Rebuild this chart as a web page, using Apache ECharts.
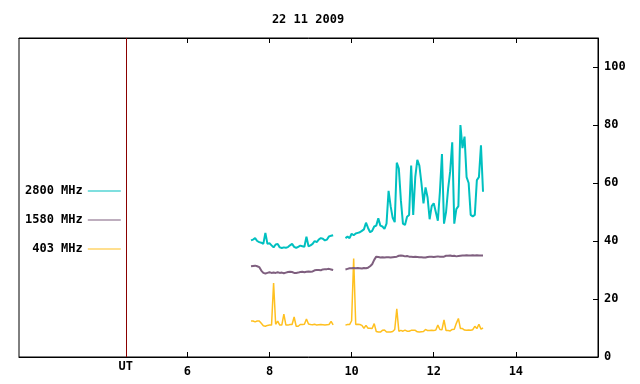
<!DOCTYPE html>
<html>
<head>
<meta charset="utf-8">
<script src="https://cdn.jsdelivr.net/npm/echarts@6/dist/echarts.min.js"></script>
<style>
  html, body { margin: 0; padding: 0; background: #fff; }
  #chart { width: 640px; height: 384px; }
</style>
</head>
<body>
<div id="chart"></div>
<script>
// sampling: two observing runs, one sample every 0.05 h (UT)
var step = 0.05;
var run1Start = 7.55, run2Start = 9.85, gapAt = 9.7;

var xTicks = [6, 8, 10, 12, 14];
var yTicks = [0, 20, 40, 60, 80, 100];

// 2800 MHz
var f2800a = [40.2, 40.5, 41, 40, 39.6, 39.4, 39, 42.8, 39, 39.2, 38.5, 37.8, 38.8, 39, 37.8, 37.6, 37.8, 37.7, 37.9, 38.5,
    39, 38, 37.6, 38, 38.4, 38.2, 38, 41.5, 38.2, 38.5, 39, 40, 39.6, 40.5, 41, 40.8, 40.2, 40.5, 41.6, 41.8, 42];
var f2800b = [41, 41.5, 41,
    42.5, 42, 42.6, 42.8, 43, 43.5, 44, 46.3, 44.5, 43, 43.5, 45, 45.3, 47.8, 45.3, 45, 44.2, 46, 57.3, 52,
    48, 46.5, 67, 65, 54, 46, 45.5, 48.4, 49, 66, 49, 62, 68, 66, 60, 53, 58.5, 55, 47.5, 52,
    53, 50, 47, 57, 70, 46, 50, 58, 64, 74, 46, 51, 52, 80, 72, 76, 62, 60, 49, 48.5,
    49, 61, 62, 73, 57];

// 1580 MHz
var f1580a = [31.3, 31.4, 31.5, 31.3, 31, 29.8, 29, 28.8, 29, 29.2, 29, 29.1, 29, 29.2, 29, 29.1, 28.9, 29.1, 29.3, 29.4,
    29.3, 29, 29, 29.1, 29.3, 29.4, 29.2, 29.4, 29.5, 29.4, 29.5, 29.9, 30, 30, 29.9, 30.2, 30.3, 30.3, 30.4, 30.2, 30];
var f1580b = [30.2, 30.4, 30.6,
    30.6, 30.7, 30.6, 30.7, 30.6, 30.5, 30.7, 30.6, 30.8, 31.3, 32, 33.5, 34.6, 34.5, 34.3, 34.4, 34.3, 34.4, 34.4, 34.3,
    34.4, 34.5, 34.6, 34.9, 35, 34.9, 34.7, 34.8, 34.6, 34.6, 34.5, 34.6, 34.5, 34.4, 34.4, 34.3, 34.3, 34.5, 34.6, 34.6,
    34.5, 34.6, 34.7, 34.6, 34.6, 34.6, 34.9, 34.9, 35, 34.8, 34.9, 34.7, 34.8, 34.9, 35, 35, 35.1, 35, 35, 35.1,
    35, 35.1, 35, 35, 35];

// 403 MHz
var f403a = [12.4, 12.4, 12.1, 12.4, 12.4, 11.6, 10.8, 10.6, 10.9, 11, 11, 25.5, 11.3, 12.4, 11, 11, 14.8, 11, 11, 11.2,
    11.2, 13.8, 10.6, 10.6, 11.2, 11.2, 11.3, 13.1, 11.4, 11.2, 11.1, 11.3, 11, 11.1, 11.2, 11.1, 11, 11.1, 11.2, 12.3, 11.1];
var f403b = [11, 11.2, 11.2,
    12.5, 34, 11.2, 11.3, 11.2, 10.9, 9.9, 10.9, 9.9, 9.9, 9.8, 11.5, 8.8, 8.6, 8.6, 9.2, 9.3, 8.6, 8.6, 8.6,
    8.8, 9.5, 16.6, 8.9, 9.2, 8.9, 9.3, 8.9, 8.9, 9.2, 9.2, 9.2, 8.7, 8.6, 8.7, 8.8, 9.5, 9.1, 9.1, 9.2,
    9.1, 9.3, 11, 9.5, 9.4, 12.8, 9.1, 9.1, 9, 9.5, 9.6, 11.6, 13.3, 9.8, 9.8, 9.3, 9.2, 9.3, 9.2, 9.4,
    10.6, 9.8, 11.3, 9.6, 10];

function run(start, vals) {
    return vals.map(function (v, i) { return [+(start + i * step).toFixed(2), v]; });
}
function both(a, b) {
    return run(run1Start, a).concat([[gapAt, null]], run(run2Start, b));
}

var font = { fontFamily: 'DejaVu Sans Mono', fontWeight: 'bold', fontSize: 12, color: '#000' };

var chart = echarts.init(document.getElementById('chart'), null, { renderer: 'canvas' });

function line(name, color, width, data, extra) {
    var s = {
        name: name,
        type: 'line',
        data: data,
        showSymbol: false,
        symbol: 'none',
        connectNulls: false,
        animation: false,
        lineStyle: { color: color, width: width },
        itemStyle: { color: color }
    };
    return Object.assign(s, extra || {});
}

var option = {
    backgroundColor: '#fff',
    animation: false,
    title: {
        text: '22 11 2009',
        left: 303,
        textAlign: 'center',
        top: 9,
        textStyle: font
    },
    legend: {
        orient: 'vertical',
        align: 'right',
        left: 20,
        top: 180,
        icon: 'rect',
        itemWidth: 33,
        itemHeight: 1,
        itemGap: 17,
        textStyle: font,
        data: ['2800 MHz', '1580 MHz', '403 MHz']
    },
    grid: {
        left: 19, right: 42, top: 38, bottom: 27,
        show: true, borderColor: '#000', borderWidth: 1,
        containLabel: false, outerBoundsMode: 'none'
    },
    xAxis: [{
        type: 'value', min: 1.9, max: 16, position: 'bottom',
        axisLine: { show: true, lineStyle: { color: '#000', width: 1 } },
        axisTick: { show: true, inside: true, length: 5, customValues: xTicks, lineStyle: { color: '#000' } },
        axisLabel: Object.assign({ customValues: xTicks, margin: 9 }, font),
        splitLine: { show: false }
    }, {
        type: 'value', min: 1.9, max: 16, position: 'top',
        axisLine: { show: true, lineStyle: { color: '#000', width: 1 } },
        axisTick: { show: true, inside: true, length: 5, customValues: xTicks, lineStyle: { color: '#000' } },
        axisLabel: { show: false },
        splitLine: { show: false }
    }],
    yAxis: {
        type: 'value', min: 0, max: 110, position: 'right',
        axisLine: { show: true, lineStyle: { color: '#000', width: 1 } },
        axisTick: { show: true, inside: true, length: 5, customValues: yTicks, lineStyle: { color: '#000' } },
        axisLabel: Object.assign({ customValues: yTicks, margin: 6 }, font),
        splitLine: { show: false }
    },
    series: [
        line('403 MHz', '#ffc020', 1.5, both(f403a, f403b), {
            markLine: {
                silent: true,
                symbol: 'none',
                animation: false,
                lineStyle: { color: '#8b0000', width: 1, type: 'solid' },
                label: Object.assign({ show: true, position: 'start', formatter: 'UT', distance: 4 }, font),
                data: [{ xAxis: 4.5 }]
            }
        }),
        line('1580 MHz', '#7f5f7f', 2, both(f1580a, f1580b)),
        line('2800 MHz', '#00c0c0', 2, both(f2800a, f2800b))
    ]
};

chart.setOption(option);
</script>
</body>
</html>
